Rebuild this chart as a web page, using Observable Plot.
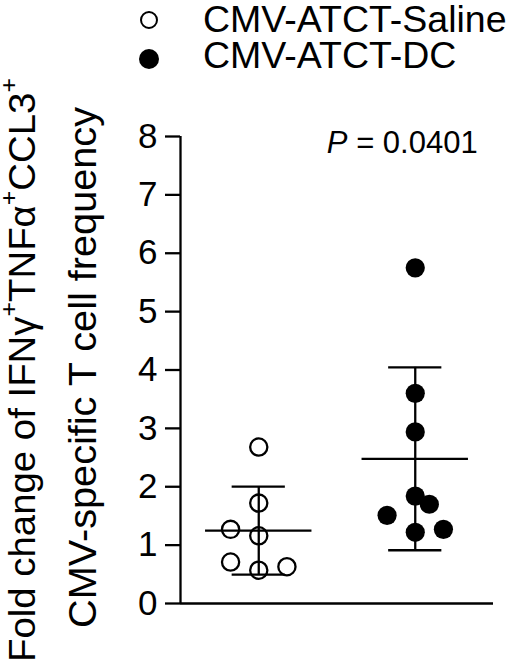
<!DOCTYPE html>
<html>
<head>
<meta charset="utf-8">
<script src="https://cdn.jsdelivr.net/npm/d3@7"></script>
<script src="https://cdn.jsdelivr.net/npm/@observablehq/plot@0.6"></script>
<style>
  html, body { margin: 0; padding: 0; background: #fff; }
  #wrap { position: relative; width: 520px; height: 666px; font-family: "Liberation Sans", Arial, sans-serif; color: #000; }
  .lg-sym { position: absolute; box-sizing: border-box; border-radius: 50%; }
  .lg-txt { position: absolute; font-size: 37.5px; line-height: 34px; white-space: nowrap; }
</style>
</head>
<body>
<div id="wrap"></div>
<script>
// ---- data ----
const groups = ["CMV-ATCT-Saline", "CMV-ATCT-DC"];
const salineValues = [2.68, 1.72, 1.27, 1.16, 0.71, 0.57, 0.63];
const salineSlots  = [0, 0, -2, 0, -2, 0, 2];
const dcValues = [5.75, 3.60, 2.94, 1.84, 1.70, 1.51, 1.22, 1.27];
const dcSlots  = [0, 0, 0, 0, 1, -2, 0, 2];
const yTicks = [0, 1, 2, 3, 4, 5, 6, 7, 8];
const pLabel = "P = 0.0401";

// ---- derived ----
const SLOT = 0.09, MEAN_HALF = 0.34, CAP_HALF = 0.17;
const saline = salineValues.map((v, i) => ({g: 0, v, s: salineSlots[i]}));
const dc = dcValues.map((v, i) => ({g: 1, v, s: dcSlots[i]}));
const stats = [salineValues, dcValues].map((vals, g) => ({g, mean: d3.mean(vals), sd: d3.deviation(vals)}));
const SW = 2.3;

const plot = Plot.plot({
  width: 520,
  height: 666,
  marginLeft: 180,
  marginRight: 27,
  marginTop: 136,
  marginBottom: 63,
  style: {fontFamily: "'Liberation Sans', Arial, sans-serif", color: "#000", background: "transparent", overflow: "visible"},
  x: {type: "linear", domain: [-0.5, 1.5], axis: null},
  y: {domain: [0, 8], axis: null},
  marks: [
    Plot.axisY({ticks: yTicks, tickSize: 15, tickPadding: 8, fontSize: 35, strokeWidth: SW, label: null, tickFormat: d => String(d)}),
    Plot.ruleX([-0.5], {y1: 0, y2: 8, strokeWidth: SW}),
    Plot.ruleY([0], {x1: -0.5, x2: 1.5, strokeWidth: SW}),
    Plot.ruleX(stats, {x: "g", y1: d => d.mean - d.sd, y2: d => d.mean + d.sd, strokeWidth: SW}),
    Plot.ruleY(stats, {y: "mean", x1: d => d.g - MEAN_HALF, x2: d => d.g + MEAN_HALF, strokeWidth: SW}),
    Plot.ruleY(stats, {y: d => d.mean + d.sd, x1: d => d.g - CAP_HALF, x2: d => d.g + CAP_HALF, strokeWidth: SW}),
    Plot.ruleY(stats, {y: d => d.mean - d.sd, x1: d => d.g - CAP_HALF, x2: d => d.g + CAP_HALF, strokeWidth: SW}),
    Plot.dot(saline, {x: d => d.g + d.s * SLOT, y: "v", r: 8.6, stroke: "#000", strokeWidth: SW, fill: "none"}),
    Plot.dot(dc, {x: d => d.g + d.s * SLOT, y: "v", r: 9.6, fill: "#000", stroke: "none"}),
    Plot.text([pLabel], {x: () => 1, frameAnchor: "top", lineAnchor: "top", dy: -6, dx: -13, fontSize: 31, text: d => d, className: "pval"})
  ]
});

const wrap = document.getElementById("wrap");
wrap.appendChild(plot);
const svg = d3.select(plot);

// italic P
svg.selectAll(".pval text").html('<tspan font-style="italic">P</tspan> = 0.0401');

// y-axis title (two lines with superscripts), fitted to the reference's length
const SUP = 18;
const up = (t) => `<tspan font-size="24" dy="-${SUP}">${t}</tspan>`;
const down = (t) => `<tspan dy="${SUP}">${t}</tspan>`;
function yTitle(cx, cy, size, len, html) {
  const t = svg.append("text")
    .attr("text-anchor", "middle")
    .attr("font-size", size)
    .attr("fill", "#000")
    .html(html);
  const w = t.node().getComputedTextLength();
  const k = w > 0 ? len / w : 1;
  t.attr("transform", `translate(${cx},${cy}) rotate(-90) scale(${k},1)`);
}
yTitle(35, 370, 37, 584,
  `Fold change of IFNγ${up("+")}${down("TNFα")}${up("+")}${down("CCL3")}${up("+")}`);
yTitle(96, 367.5, 39, 521, "CMV-specific T cell frequency");

// legend (HTML, overlaid on the top margin)
const legendRows = [
  {label: groups[0], filled: false, cy: 20, base: 32},
  {label: groups[1], filled: true, cy: 59, base: 68}
];
legendRows.forEach(r => {
  const s = document.createElement("div");
  s.className = "lg-sym";
  const size = r.filled ? 20 : 18;
  s.style.width = size + "px";
  s.style.height = size + "px";
  s.style.left = (149 - size / 2) + "px";
  s.style.top = (r.cy - size / 2) + "px";
  if (r.filled) s.style.background = "#000";
  else s.style.border = "2.3px solid #000";
  wrap.appendChild(s);
  const t = document.createElement("div");
  t.className = "lg-txt";
  t.textContent = r.label;
  t.style.left = "203px";
  t.style.top = (r.base - 30) + "px";
  wrap.appendChild(t);
});
</script>
</body>
</html>
